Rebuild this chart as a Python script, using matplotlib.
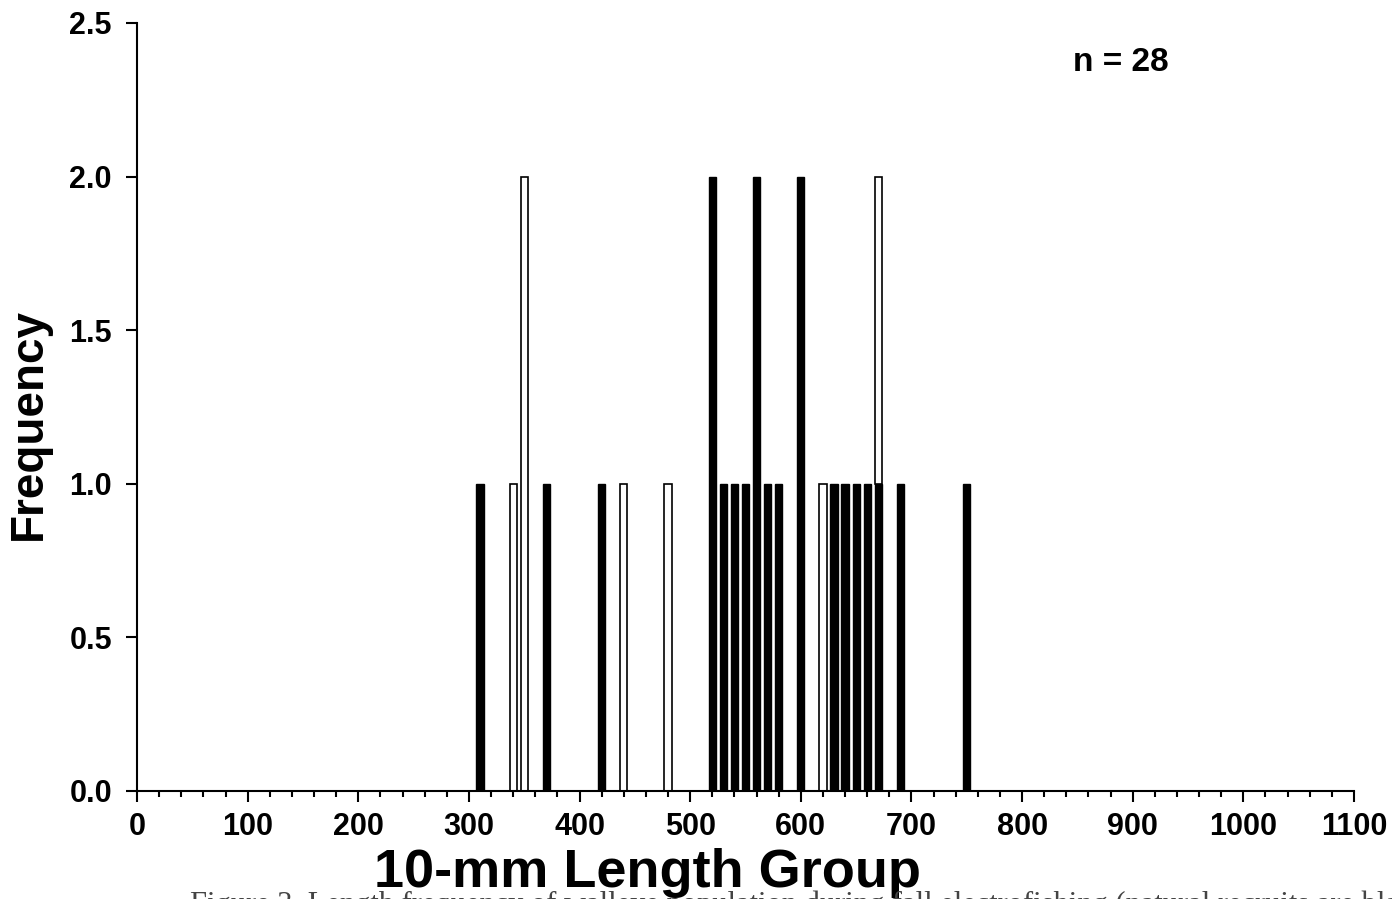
import matplotlib
matplotlib.use("Agg")
import matplotlib.pyplot as plt
from matplotlib.ticker import MultipleLocator, FormatStrFormatter

# 10-mm length groups and counts per group
length_groups = [310, 340, 350, 370, 420, 440, 480, 520, 530, 540, 550, 560,
                 570, 580, 600, 620, 630, 640, 650, 660, 670, 690, 750]
black_counts = [1, 0, 0, 1, 1, 0, 0, 2, 1, 1, 1, 2,
                1, 1, 2, 0, 1, 1, 1, 1, 1, 1, 1]
white_counts = [0, 1, 2, 0, 0, 1, 1, 0, 0, 0, 0, 0,
                0, 0, 0, 1, 0, 0, 0, 0, 1, 0, 0]
y_ticks = [0.0, 0.5, 1.0, 1.5, 2.0, 2.5]
x_ticks = list(range(0, 1101, 100))
n_total = sum(black_counts) + sum(white_counts)

plt.rcParams["font.family"] = ["Liberation Sans", "DejaVu Sans"]

fig = plt.figure(figsize=(13.92, 8.99), dpi=100)
W, H = 1392, 899
ax = fig.add_axes([137 / W, 1 - 791 / H, (1354 - 137) / W, (791 - 23) / H])

bar_w = 6.5
bx = [x for x, c in zip(length_groups, black_counts) if c > 0]
bh = [c for c in black_counts if c > 0]
ax.bar(bx, bh, width=bar_w, color="black", edgecolor="black", linewidth=1.0)

wx = [x for x, c in zip(length_groups, white_counts) if c > 0]
wh = [c for c in white_counts if c > 0]
wb = [b for b, c in zip(black_counts, white_counts) if c > 0]
ax.bar(wx, wh, bottom=wb, width=bar_w, color="white", edgecolor="black",
       linewidth=1.2)

ax.set_xlim(0, 1100)
ax.set_ylim(0, 2.5)
ax.spines["top"].set_visible(False)
ax.spines["right"].set_visible(False)
for s in ("left", "bottom"):
    ax.spines[s].set_linewidth(1.5)

ax.set_xticks(x_ticks)
ax.xaxis.set_minor_locator(MultipleLocator(20))
ax.set_yticks(y_ticks)
ax.yaxis.set_major_formatter(FormatStrFormatter("%.1f"))
ax.tick_params(axis="x", which="major", direction="out", length=8, width=1.5,
               labelsize=22, pad=7)
ax.tick_params(axis="x", which="minor", direction="out", length=4, width=1.5)
ax.tick_params(axis="y", which="major", direction="out", length=8, width=1.5,
               labelsize=22, pad=10)
for lab in ax.get_xticklabels() + ax.get_yticklabels():
    lab.set_fontweight("bold")

fig.text(648 / W, 1 - 887 / H, "10-mm Length Group", ha="center", va="baseline",
         fontsize=39, fontweight="bold")
fig.text(29 / W, 1 - 424 / H, "Frequency", ha="center", va="center",
         rotation=90, fontsize=33, fontweight="bold")
ax.text(846, 2.373, f"n = {n_total}", ha="left", va="center",
        fontsize=24, fontweight="bold")

fig.text(190 / W, 1 - 913 / H,
         "Figure 3. Length frequency of walleye population during fall "
         "electrofishing (natural recruits are black bars) and artificial",
         ha="left", va="baseline", fontsize=22, color="#444444",
         family=["Liberation Serif", "DejaVu Serif"])

fig.savefig("out.png", dpi=100)
